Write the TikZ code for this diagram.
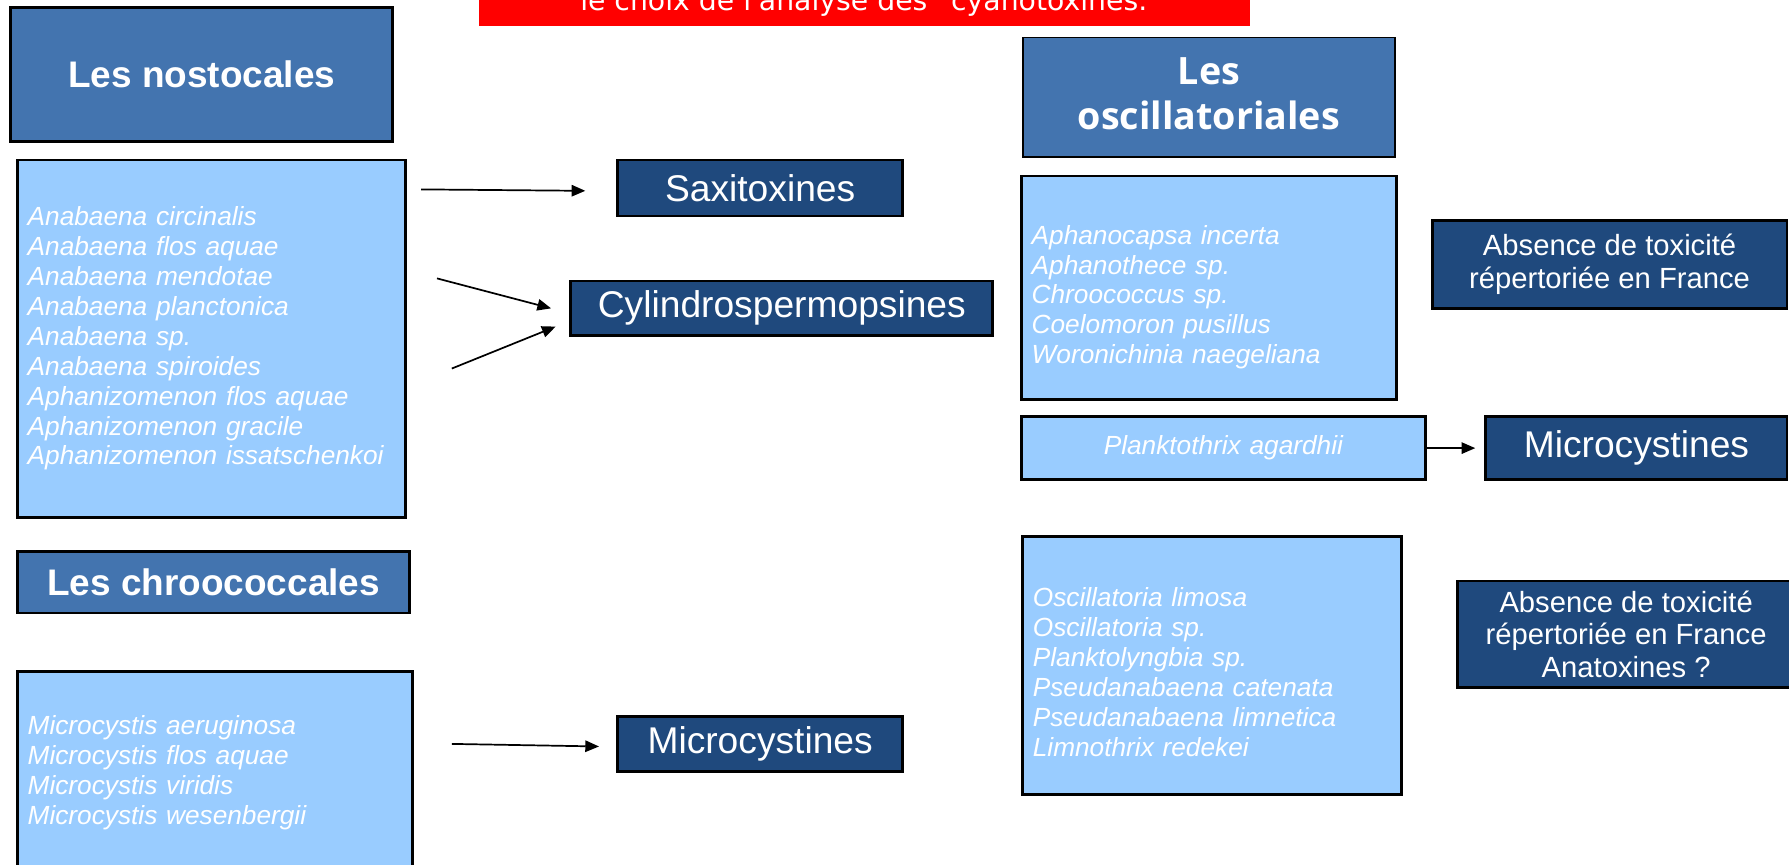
\documentclass[tikz,border=0pt]{standalone}
\usepackage{fontspec}
\setmainfont{Liberation Sans}
\newfontfamily\osfont{Open Sans}
\newfontfamily\djfont{DejaVu Sans}
\usetikzlibrary{arrows.meta,positioning}
\definecolor{hdblue}{RGB}{67,116,175}
\definecolor{skyblue}{RGB}{153,204,255}
\definecolor{navy}{RGB}{31,73,125}
\tikzset{box/.style={draw, line width=2.5pt, text=white, inner sep=0pt, anchor=north west}}
\tikzstyle{hd}=[box, fill=hdblue, font={\fontsize{32.4}{36}\selectfont\bfseries}]
\tikzstyle{sp}=[box, fill=skyblue, font={\fontsize{23}{26.2}\selectfont\itshape}, align=left, inner xsep=9pt]
\tikzstyle{tx}=[box, fill=navy, font={\fontsize{32.6}{36}\selectfont}]
\tikzstyle{abs}=[box, fill=navy, font={\fontsize{25.6}{28.5}\selectfont}, align=center]

\begin{document}
\begin{tikzpicture}[x=1pt, y=-1pt, >={Triangle[length=12pt,width=10pt]}, line width=1.5pt]
\useasboundingbox (0,0) rectangle (1568,758);
\node[fill=red, inner sep=0pt, anchor=north west, minimum width=676pt, minimum height=40pt] (B0) at (419,-18) {};
\node[text=white, anchor=base, font={\djfont\fontsize{24.8}{28}\selectfont}] (B1) at (757,8.8) {le choix de l'analyse des “cyanotoxines.};

% nostocales
\node[hd, minimum width=335pt, minimum height=118pt] (H1) at (8,5) {Les nostocales};
\node[sp, text width=322pt, minimum height=313pt] (L1) at (14,139) {Anabaena circinalis\\Anabaena flos aquae\\Anabaena mendotae\\Anabaena planctonica\\Anabaena sp.\\Anabaena spiroides\\Aphanizomenon flos aquae\\Aphanizomenon gracile\\Aphanizomenon issatschenkoi};
\node[tx, minimum width=250pt, minimum height=49pt] (T1) at (540,139) {Saxitoxines};
\node[tx, minimum width=370pt, minimum height=48pt] (T2) at (499,245) {Cylindrospermopsines};

% chroococcales
\node[hd, minimum width=344pt, minimum height=54pt] (H2) at (14,482) {Les chroococcales};
\node[sp, text width=328pt, minimum height=178pt] (L2) at (14,587) {Microcystis aeruginosa\\Microcystis flos aquae\\Microcystis viridis\\Microcystis wesenbergii};
\node[tx, minimum width=250pt, minimum height=48pt] (T3) at (540,627) {Microcystines};

% oscillatoriales
\node[hd, line width=1.2pt, font={\osfont\fontsize{33}{39}\selectfont\bfseries}, align=center, minimum width=326pt, minimum height=105pt] (H3) at (896,32) {Les\\oscillatoriales\rule[-6pt]{0pt}{1pt}};
\node[sp, text width=311pt, minimum height=196pt] (L3) at (894,153) {\rule{0pt}{33pt}Aphanocapsa incerta\\Aphanothece sp.\\Chroococcus sp.\\Coelomoron pusillus\\Woronichinia naegeliana};
\node[abs, minimum width=311pt, minimum height=77pt] (T4) at (1254,192) {Absence de toxicité\\répertoriée en France};
\node[sp, align=center, text width=336pt, minimum height=55pt] (L4) at (894,364) {Planktothrix agardhii};
\node[tx, minimum width=264pt, minimum height=55pt] (T5) at (1301,364) {Microcystines};
\node[sp, text width=314pt, minimum height=226pt] (L5) at (895,469) {\rule{0pt}{28pt}Oscillatoria limosa\\Oscillatoria sp.\\Planktolyngbia sp.\\Pseudanabaena catenata\\Pseudanabaena limnetica\\Limnothrix redekei};
\node[abs, minimum width=296pt, minimum height=93pt] (T6) at (1276,508) {Absence de toxicité\\répertoriée en France\\Anatoxines ?};

\coordinate (A1) at (369,166);
\coordinate (A2) at (383,244);
\coordinate (A3) at (396,323);
\coordinate (A4) at (396,652);
\draw[->] (A1) -- ([xshift=-27pt,yshift=-2.5pt]T1.west);
\draw[->] (A2) -- ([xshift=-16pt]T2.west);
\draw[->] (A3) -- ([xshift=-12pt,yshift=-16pt]T2.west);
\draw[->] (A4) -- ([xshift=-15pt,yshift=-2pt]T3.west);
\draw[->] (L4) -- ([xshift=-8pt]T5.west);
\end{tikzpicture}
\end{document}
